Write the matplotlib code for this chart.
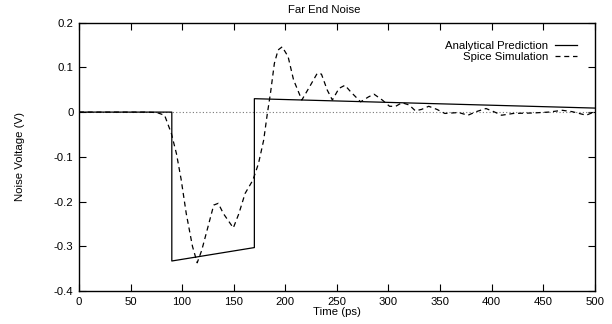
import matplotlib
matplotlib.use('Agg')
import matplotlib.pyplot as plt

plt.rcParams['font.family'] = ['Liberation Sans', 'DejaVu Sans']

# Analytical prediction (piecewise linear)
ana_t = [0, 90, 90, 170, 170, 500]
ana_v = [0, 0, -0.333, -0.303, 0.030, 0.009]

# Spice simulation
sp_t = [0, 40, 65, 75.5, 83, 89.6, 94.5, 99, 104, 110, 114.6, 119, 125, 130.6,
        135, 140, 149.6, 155, 161, 168.6, 174, 179, 182.6, 185.6, 189.4, 193,
        197, 202.7, 208, 216, 223.6, 231, 235, 240.7, 245.6, 252, 257.8, 263.5,
        273, 280.6, 286, 294, 301, 307, 313, 320, 326, 332, 339, 347, 354.6,
        368, 377, 385, 394.5, 402, 409.6, 421, 440, 455, 468.5, 478, 491.6, 500]
sp_v = [0, 0, 0, -0.001, -0.007, -0.048, -0.093, -0.150, -0.227, -0.300,
        -0.337, -0.309, -0.257, -0.208, -0.204, -0.227, -0.259, -0.227, -0.182,
        -0.152, -0.115, -0.063, -0.003, 0.042, 0.109, 0.139, 0.146, 0.124,
        0.072, 0.027, 0.057, 0.087, 0.085, 0.049, 0.027, 0.053, 0.060, 0.045,
        0.023, 0.034, 0.040, 0.027, 0.013, 0.013, 0.021, 0.016, 0.003, 0.006,
        0.013, 0.006, -0.003, -0.001, -0.007, 0.001, 0.008, 0.001, -0.007,
        -0.003, -0.002, 0.0, 0.004, 0.001, -0.007, 0.001]

xticks = [0, 50, 100, 150, 200, 250, 300, 350, 400, 450, 500]
yticks = [-0.4, -0.3, -0.2, -0.1, 0, 0.1, 0.2]

fs = 8.2

fig = plt.figure(figsize=(6.12, 3.24), dpi=100)
ax = fig.add_axes([0.129, 0.102, 0.843, 0.828])

ax.axhline(0, color='#777777', linestyle=(0, (1, 2)), linewidth=0.8)
ax.plot(ana_t, ana_v, color='black', linewidth=0.9, label='Analytical Prediction')
ax.plot(sp_t, sp_v, color='black', linewidth=0.9, linestyle=(0, (4, 3)),
        label='Spice Simulation')

ax.set_xlim(0, 500)
ax.set_ylim(-0.4, 0.2)
ax.set_xticks(xticks)
ax.set_yticks(yticks)
ax.set_xticklabels([str(t) for t in xticks])
ax.set_yticklabels(['-0.4', '-0.3', '-0.2', '-0.1', '0', '0.1', '0.2'])
ax.tick_params(direction='in', length=5, width=0.8, labelsize=fs,
               top=True, right=True, pad=4)
for s in ax.spines.values():
    s.set_linewidth(1.0)

leg = ax.legend(loc='upper right', frameon=False, markerfirst=False,
                fontsize=fs, handlelength=1.9, handletextpad=0.6,
                labelspacing=0.1, borderpad=0, borderaxespad=0,
                bbox_to_anchor=(0.965, 0.932))
for t in leg.get_texts():
    t.set_ha('right')

fig.text(324 / 612, 1 - 10 / 324, 'Far End Noise', ha='center', va='center', fontsize=fs)
ax.set_xlabel('Time (ps)', fontsize=fs, labelpad=0)
ax.set_ylabel('Noise Voltage (V)', fontsize=fs, labelpad=21)

fig.savefig('out.png', dpi=100)
